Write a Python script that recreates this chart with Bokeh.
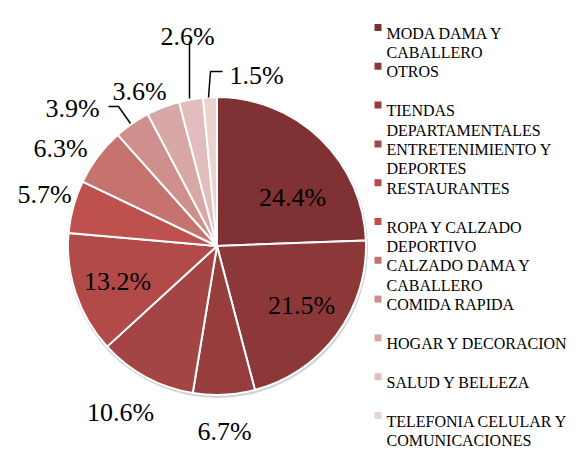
import math
import textwrap
from bokeh.plotting import figure
from bokeh.models import Range1d, ColumnDataSource
from bokeh.embed import file_html
from bokeh.resources import INLINE
from bokeh.core.properties import value

# ---- data ----
categories = ["MODA DAMA Y CABALLERO", "OTROS", "TIENDAS DEPARTAMENTALES",
              "ENTRETENIMIENTO Y DEPORTES", "RESTAURANTES", "ROPA Y CALZADO DEPORTIVO",
              "CALZADO DAMA Y CABALLERO", "COMIDA RAPIDA", "HOGAR Y DECORACION",
              "SALUD Y BELLEZA", "TELEFONIA CELULAR Y COMUNICACIONES"]
shares = [24.4, 21.5, 6.7, 10.6, 13.2, 5.7, 6.3, 3.9, 3.6, 2.6, 1.5]
colors = ["#7f3133", "#8c3838", "#983d3d", "#a54444", "#b14a49", "#be514e",
          "#c6736f", "#cf8f8d", "#d8a8a7", "#e1bebd", "#ebd3d2"]

# ---- layout (picture pixel coordinates, y measured from top) ----
W, H = 569, 450
def Y(py):
    return H - py

cx, cy, r = 216.5, 245.5, 149
label_xy = [(292, 197), (301, 305), (224, 431), (120, 412), (117, 281), (44, 194),
            (60, 148), (72, 108), (139, 91), (187, 36), (256, 75)]
leaders = [[(108, 106), (118, 106), (130, 123)],
           [(189, 41), (189, 98)],
           [(222, 71), (210, 71), (208, 97)]]
leg_x, leg_y0, leg_dy, line_dy = 377.5, 27, 38.8, 19.5

FONT = "Liberation Serif"

p = figure(width=W, height=H, output_backend="svg", toolbar_location=None,
           x_range=Range1d(0, W), y_range=Range1d(0, H),
           min_border=0, outline_line_color=None)
p.axis.visible = False
p.grid.visible = False
p.background_fill_color = "white"
p.border_fill_color = "white"

# shadow
p.circle(x=[cx + 0.5], y=[Y(cy) - 1.5], radius=r + 1.5, fill_color="#bdbdbd",
         fill_alpha=0.7, line_color=None)

total = sum(shares)
starts, ends = [], []
cum = 0.0
for s in shares:
    starts.append(math.pi / 2 - 2 * math.pi * cum / total)
    cum += s
    ends.append(math.pi / 2 - 2 * math.pi * cum / total)

src = ColumnDataSource(dict(start=starts, end=ends, color=colors))
p.wedge(x=cx, y=Y(cy), radius=r, start_angle="start", end_angle="end",
        direction="clock", fill_color="color", line_color="white", line_width=2,
        source=src)

# percentage labels
p.text(x=[xy[0] for xy in label_xy], y=[Y(xy[1]) for xy in label_xy],
       text=[f"{s:.1f}%" for s in shares], text_font=value(FONT),
       text_font_size="26px", text_align="center", text_baseline="alphabetic",
       text_color="black")

# leader lines
p.multi_line(xs=[[pt[0] for pt in L] for L in leaders],
             ys=[[Y(pt[1]) for pt in L] for L in leaders],
             line_color="black", line_width=1.5)

# legend
lx, ly, lt = [], [], []
for i, cat in enumerate(categories):
    yc = leg_y0 + i * leg_dy
    for j, line in enumerate(textwrap.wrap(cat, 19)):
        lx.append(leg_x + 8.5)
        ly.append(Y(yc + 5.5 + j * line_dy))
        lt.append(line)
p.rect(x=[leg_x] * len(categories), y=[Y(leg_y0 + i * leg_dy) for i in range(len(categories))],
       width=7, height=7, fill_color=colors, line_color=None)
p.text(x=lx, y=ly, text=lt, text_font=value(FONT), text_font_size="16px",
       text_align="left", text_baseline="alphabetic", text_color="black")

open("out.html", "w").write(file_html(p, INLINE))
